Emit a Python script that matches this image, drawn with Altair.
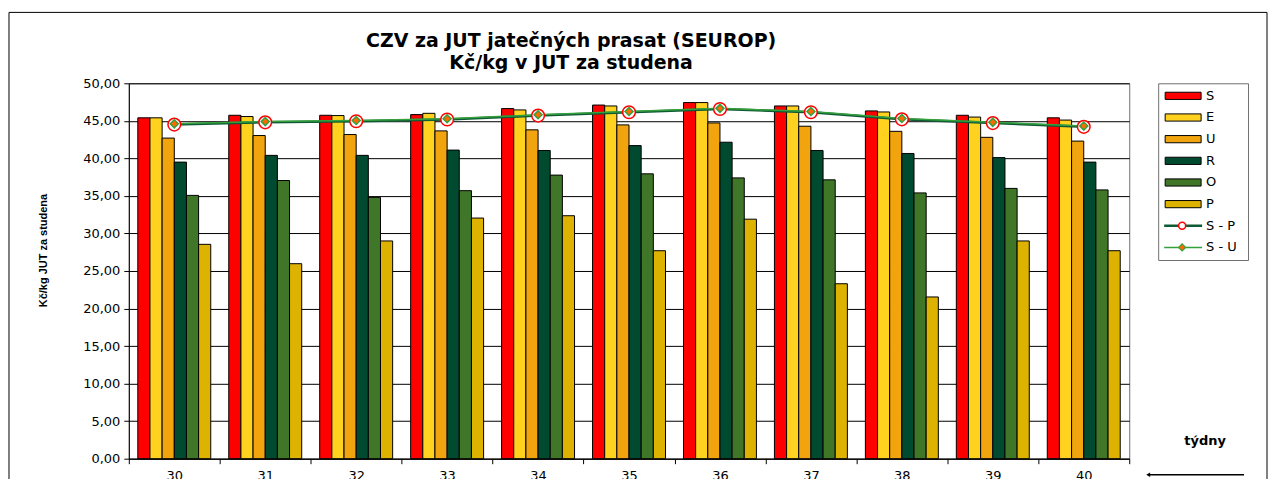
import altair as alt
import pandas as pd

weeks = [30, 31, 32, 33, 34, 35, 36, 37, 38, 39, 40]
classes = ["S", "E", "U", "R", "O", "P"]
S = [45.40, 45.74, 45.74, 45.83, 46.63, 47.10, 47.43, 46.98, 46.32, 45.74, 45.40]
E = [45.40, 45.57, 45.70, 46.00, 46.45, 46.98, 47.43, 46.98, 46.18, 45.50, 45.10]
U = [42.70, 43.04, 43.17, 43.66, 43.80, 44.46, 44.72, 44.28, 43.60, 42.80, 42.30]
R = [39.50, 40.40, 40.40, 41.10, 41.05, 41.70, 42.15, 41.05, 40.65, 40.10, 39.50]
O = [35.07, 37.05, 34.80, 35.70, 37.77, 37.94, 37.40, 37.14, 35.40, 36.00, 35.80]
P = [28.55, 25.97, 29.00, 32.05, 32.36, 27.70, 31.90, 23.30, 21.54, 29.00, 27.70]
SP = [44.50, 44.80, 44.95, 45.17, 45.70, 46.14, 46.58, 46.14, 45.20, 44.70, 44.20]
SU = [44.60, 44.90, 45.05, 45.27, 45.80, 46.24, 46.66, 46.24, 45.30, 44.80, 44.30]
line_names = ["S - P", "S - U"]
y_ticks = [0, 5, 10, 15, 20, 25, 30, 35, 40, 45, 50]
title_line1 = "CZV za JUT jatečných prasat (SEUROP)"
title_line2 = "Kč/kg v JUT za studena"

bar_colors = ["#FF0000", "#FFD21F", "#F2A40E", "#004A30", "#3F7628", "#DDB200"]
sp_color = "#0E5A34"
su_color = "#34A03C"

series_vals = [S, E, U, R, O, P]
bars_df = pd.DataFrame([
    {"week": w, "cls": c, "value": vals[i]}
    for i, w in enumerate(weeks)
    for c, vals in zip(classes, series_vals)
])
lines_df = pd.DataFrame(
    [{"week": w, "series": "S - P", "value": SP[i]} for i, w in enumerate(weeks)]
    + [{"week": w, "series": "S - U", "value": SU[i]} for i, w in enumerate(weeks)]
)

FONT = "DejaVu Sans"

x_enc = alt.X(
    "week:O",
    title=None,
    scale=alt.Scale(paddingInner=0, paddingOuter=0),
    axis=alt.Axis(
        tickBand="extent", labelAngle=0, labelFont=FONT, labelFontSize=13,
        labelColor="black", domainColor="black", tickColor="black",
        tickSize=5, labelPadding=6,
    ),
)
y_enc = alt.Y(
    "value:Q",
    scale=alt.Scale(domain=[0, 50], nice=False),
    axis=alt.Axis(
        values=y_ticks,
        labelExpr="replace(format(datum.value, '.2f'), '.', ',')",
        labelFont=FONT, labelFontSize=13, labelColor="black",
        labelOverlap=False, labelPadding=4,
        title="Kč/kg JUT za studena", titleFont="Liberation Sans",
        titleFontSize=11, titleFontWeight="bold", titleColor="black",
        titlePadding=34, titleY=167,
        gridColor="black", gridWidth=1, domainColor="black",
        tickColor="black", tickSize=5,
    ),
)

one = pd.DataFrame({"a": [0]})

frame = alt.Chart(one).mark_rect(
    fill="transparent", stroke="black", strokeWidth=1
).encode(
    x=alt.value(-120), x2=alt.value(1140), y=alt.value(-71), y2=alt.value(430)
)

title1 = alt.Chart(pd.DataFrame({"t": [title_line1]})).mark_text(
    font=FONT, fontSize=19, fontWeight="bold", color="black",
    align="center", baseline="middle"
).encode(x=alt.value(443), y=alt.value(-42), text="t:N")
title2 = alt.Chart(pd.DataFrame({"t": [title_line2]})).mark_text(
    font=FONT, fontSize=19, fontWeight="bold", color="black",
    align="center", baseline="middle"
).encode(x=alt.value(443), y=alt.value(-20), text="t:N")

bars = alt.Chart(bars_df).mark_bar(stroke="black", strokeWidth=1).encode(
    x=x_enc,
    xOffset=alt.XOffset("cls:N", sort=classes,
                        scale=alt.Scale(paddingInner=0, paddingOuter=0.74)),
    y=y_enc,
    fill=alt.Fill("cls:N", sort=classes,
                  scale=alt.Scale(domain=classes, range=bar_colors), legend=None),
)

line_sp = alt.Chart(lines_df).transform_filter(alt.datum.series == "S - P").mark_line(
    color=sp_color, strokeWidth=2.5
).encode(x=x_enc, y=y_enc)
line_su = alt.Chart(lines_df).transform_filter(alt.datum.series == "S - U").mark_line(
    color=su_color, strokeWidth=1.5
).encode(x=x_enc, y=y_enc)
pts_sp = alt.Chart(lines_df).transform_filter(alt.datum.series == "S - P").mark_point(
    shape="circle", filled=True, fill="white", stroke="#FF0000", strokeWidth=1.5,
    size=160, opacity=1
).encode(x=x_enc, y=y_enc)
pts_su = alt.Chart(lines_df).transform_filter(alt.datum.series == "S - U").mark_point(
    shape="diamond", filled=True, fill="#FF6A00", stroke=su_color, strokeWidth=1.5,
    size=64, opacity=1
).encode(x=x_enc, y=y_enc)

tydny = alt.Chart(pd.DataFrame({"t": ["týdny"]})).mark_text(
    font=FONT, fontSize=13, fontWeight="bold", color="black", align="center",
    baseline="middle"
).encode(x=alt.value(1078), y=alt.value(358), text="t:N")
arrow = alt.Chart(one).mark_rule(color="black", strokeWidth=1.5).encode(
    x=alt.value(1021), x2=alt.value(1117), y=alt.value(392)
)
arrow_head = alt.Chart(one).mark_point(
    shape="triangle-left", filled=True, color="black", size=20, opacity=1
).encode(x=alt.value(1021), y=alt.value(392))

main = alt.layer(
    frame, title1, title2, bars, line_sp, line_su, pts_sp, pts_su,
    tydny, arrow, arrow_head
).properties(width=1002, height=376)

# legend panel
leg_names = classes + line_names
leg_df = pd.DataFrame({"name": leg_names})
leg_y = alt.Y("name:N", sort=leg_names, axis=None,
              scale=alt.Scale(type="point", padding=0.58))
rect_path = "M-1,-0.2L1,-0.2L1,0.2L-1,0.2Z"

leg_sym = alt.Chart(leg_df).transform_filter(
    alt.FieldOneOfPredicate(field="name", oneOf=classes)
).mark_point(shape=rect_path, size=1296, filled=True, stroke="black",
             strokeWidth=1, opacity=1).encode(
    x=alt.value(25), y=leg_y,
    fill=alt.Fill("name:N", scale=alt.Scale(domain=classes, range=bar_colors), legend=None),
)
leg_sp_line = alt.Chart(leg_df).transform_filter(alt.datum.name == "S - P").mark_rule(
    color=sp_color, strokeWidth=2.5).encode(x=alt.value(6), x2=alt.value(44), y=leg_y)
leg_su_line = alt.Chart(leg_df).transform_filter(alt.datum.name == "S - U").mark_rule(
    color=su_color, strokeWidth=1.5).encode(x=alt.value(6), x2=alt.value(44), y=leg_y)
leg_sp_pt = alt.Chart(leg_df).transform_filter(alt.datum.name == "S - P").mark_point(
    shape="circle", filled=True, fill="white", stroke="#FF0000", strokeWidth=1.5,
    size=49, opacity=1).encode(x=alt.value(24), y=leg_y)
leg_su_pt = alt.Chart(leg_df).transform_filter(alt.datum.name == "S - U").mark_point(
    shape="diamond", filled=True, fill="#FF6A00", stroke=su_color, strokeWidth=1.2,
    size=49, opacity=1).encode(x=alt.value(24), y=leg_y)
leg_text = alt.Chart(leg_df).mark_text(
    align="left", baseline="middle", font=FONT, fontSize=13, color="black"
).encode(x=alt.value(48), y=leg_y, text="name:N")

legend = alt.layer(
    leg_sym, leg_sp_line, leg_su_line, leg_sp_pt, leg_su_pt, leg_text
).properties(width=90, height=177)

chart = alt.hconcat(main, legend, spacing=29, bounds="flush").properties(
    padding={"left": 0, "top": 3, "right": 0, "bottom": 0},
    background="white",
).configure_view(stroke="#707070", strokeWidth=1)

chart.save("out.html", embed_options={"renderer": "svg", "actions": False})
